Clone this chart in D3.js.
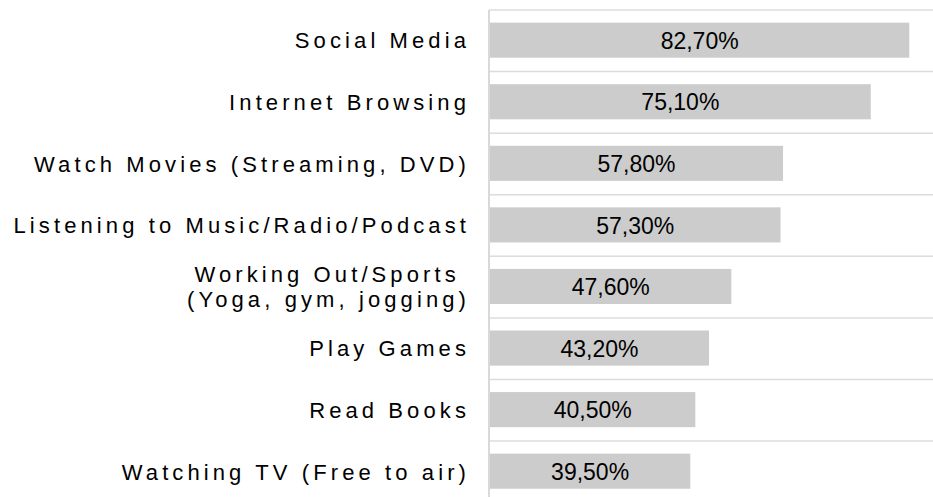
<!DOCTYPE html>
<html>
<head>
<meta charset="utf-8">
<script src="https://cdn.jsdelivr.net/npm/d3@7"></script>
<style>
  body { margin: 0; background: #fff; }
  svg { display: block; }
</style>
</head>
<body>
<div id="chart"></div>
<script>
// Data
const categories = [
    ["Social Media"],
    ["Internet Browsing"],
    ["Watch Movies (Streaming, DVD)"],
    ["Listening to Music/Radio/Podcast"],
    ["Working Out/Sports ", "(Yoga, gym, jogging)"],
    ["Play Games"],
    ["Read Books"],
    ["Watching TV (Free to air)"]
];
const values = [82.7, 75.1, 57.8, 57.3, 47.6, 43.2, 40.5, 39.5];

const data = categories.map((c, i) => ({ id: i, lines: c, value: values[i] }));

const svgWidth = 933;
const svgHeight = 497;

const svg = d3.select("#chart").append("svg")
    .attr("width", svgWidth)
    .attr("height", svgHeight);

// band scale for the category rows
const y = d3.scaleBand()
    .domain(data.map(d => d.id))
    .range([10, 502.6])
    .padding(0);

const x = d3.scaleLinear()
    .domain([0, 100])
    .range([490, 997]);

const step = y.step();
const barOffset = step * 0.205;
const barHeight = step * 0.57;

// horizontal grid lines between categories
svg.append("g")
    .selectAll("line")
    .data(d3.range(data.length + 1))
    .join("line")
    .attr("x1", x(0) - 1)
    .attr("x2", svgWidth)
    .attr("y1", i => 10 + i * step)
    .attr("y2", i => 10 + i * step)
    .attr("stroke", "#dcdcdc")
    .attr("stroke-width", 1.5);

// bars
svg.append("g")
    .attr("fill", "#cccccc")
    .selectAll("rect")
    .data(data)
    .join("rect")
    .attr("x", x(0))
    .attr("y", d => y(d.id) + barOffset)
    .attr("width", d => x(d.value) - x(0))
    .attr("height", barHeight);

// vertical axis line
svg.append("line")
    .attr("x1", x(0) - 1)
    .attr("x2", x(0) - 1)
    .attr("y1", 10)
    .attr("y2", svgHeight)
    .attr("stroke", "#d9d9d9")
    .attr("stroke-width", 2);

// value labels in the middle of each bar
const fmt = v => v.toFixed(2).replace(".", ",") + "%";
svg.append("g")
    .attr("fill", "#000")
    .attr("text-anchor", "middle")
    .style("font", "23px 'Liberation Sans', Arial, sans-serif")
    .selectAll("text")
    .data(data)
    .join("text")
    .attr("x", d => (x(0) + x(d.value)) / 2)
    .attr("y", d => y(d.id) + step / 2)
    .attr("dy", "0.35em")
    .text(d => fmt(d.value));

// category labels
const labels = svg.append("g")
    .attr("fill", "#000")
    .attr("text-anchor", "end")
    .style("font", "22px 'Liberation Sans', Arial, sans-serif")
    .style("letter-spacing", "4.1px")
    .style("white-space", "pre")
    .selectAll("text")
    .data(data)
    .join("text")
    .attr("x", 470)
    .attr("y", d => y(d.id) + step / 2 - (d.lines.length - 1) * 12.5)
    .attr("dy", "0.35em");

labels.selectAll("tspan")
    .data(d => d.lines)
    .join("tspan")
    .attr("x", 470)
    .attr("dy", (l, i) => i === 0 ? "0.35em" : "25px")
    .text(l => l);
</script>
</body>
</html>
